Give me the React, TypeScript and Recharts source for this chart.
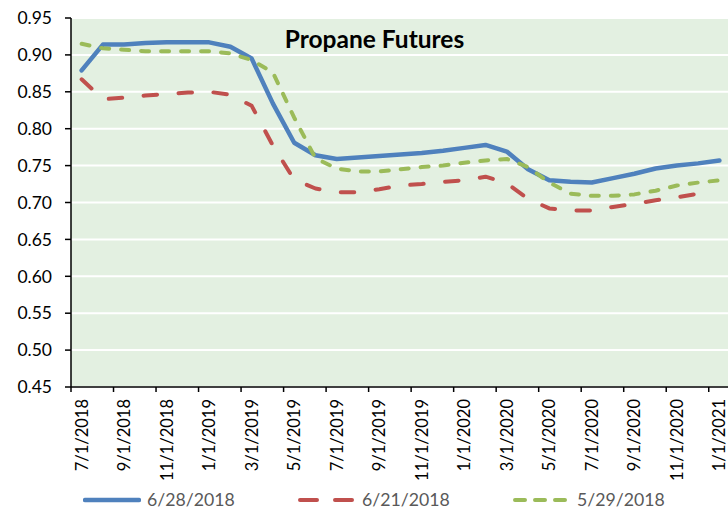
import React from 'react';
import { LineChart, Line, XAxis, YAxis, CartesianGrid, Legend } from 'recharts';

const months = [
  '7/1/2018', '8/1/2018', '9/1/2018', '10/1/2018', '11/1/2018', '12/1/2018',
  '1/1/2019', '2/1/2019', '3/1/2019', '4/1/2019', '5/1/2019', '6/1/2019',
  '7/1/2019', '8/1/2019', '9/1/2019', '10/1/2019', '11/1/2019', '12/1/2019',
  '1/1/2020', '2/1/2020', '3/1/2020', '4/1/2020', '5/1/2020', '6/1/2020',
  '7/1/2020', '8/1/2020', '9/1/2020', '10/1/2020', '11/1/2020', '12/1/2020',
  '1/1/2021',
];

const curve0628 = [
  0.879, 0.914, 0.914, 0.916, 0.917, 0.917, 0.917, 0.911, 0.895, 0.834,
  0.781, 0.764, 0.759, 0.761, 0.763, 0.765, 0.767, 0.770, 0.774, 0.778,
  0.769, 0.745, 0.730, 0.728, 0.727, 0.733, 0.739, 0.746, 0.750, 0.753,
  0.757,
];

const curve0621 = [
  0.867, 0.840, 0.842, 0.845, 0.847, 0.849, 0.850, 0.846, 0.831, 0.777,
  0.731, 0.719, 0.714, 0.714, 0.718, 0.723, 0.725, 0.728, 0.730, 0.735,
  0.726, 0.705, 0.692, 0.689, 0.689, 0.694, 0.698, 0.703, 0.707, 0.712,
  null,
];

const curve0529 = [
  0.915, 0.909, 0.907, 0.905, 0.905, 0.905, 0.905, 0.902, 0.893, 0.876,
  0.815, 0.760, 0.746, 0.742, 0.742, 0.745, 0.748, 0.750, 0.754, 0.757,
  0.759, 0.748, 0.727, 0.712, 0.709, 0.709, 0.711, 0.716, 0.723, 0.727,
  0.730,
];

const yTicks = [0.45, 0.5, 0.55, 0.6, 0.65, 0.7, 0.75, 0.8, 0.85, 0.9, 0.95];

const series = [
  { key: 'd0628', name: '6/28/2018', color: '#4F81BD', width: 4.5, dash: undefined, legendDash: undefined },
  { key: 'd0621', name: '6/21/2018', color: '#C0504D', width: 4, dash: '13.5 21.5', legendDash: '17 18' },
  { key: 'd0529', name: '5/29/2018', color: '#9BBB59', width: 4, dash: '8 12', legendDash: '10 10' },
];

const data = months.map((m, i) => ({
  month: m,
  d0628: curve0628[i],
  d0621: curve0621[i],
  d0529: curve0529[i],
}));

const FONT = 'Lato, "Liberation Sans", Arial, sans-serif';
const CHART_W = 732;
const CHART_H = 510;
const Y_AXIS_W = 71;
const MARGIN = { top: 18, right: 2, left: 0, bottom: 38 };
// one month slot on the date axis; ticks sit on slot edges, labels in the middle
const CELL = (CHART_W - MARGIN.left - MARGIN.right - Y_AXIS_W) / months.length;

const DateTick = (props: any) => {
  const { x, y, payload } = props;
  const ty = y + 12;
  return (
    <g>
      <line x1={x - CELL / 2} y1={y} x2={x - CELL / 2} y2={y + 5} stroke="#000" strokeWidth={1.5} />
      <text
        x={x}
        y={ty}
        transform={`rotate(-90, ${x}, ${ty})`}
        textAnchor="end"
        dy="0.36em"
        fontSize={16.5}
        fontFamily={FONT}
        fill="#000"
      >
        {payload.value}
      </text>
    </g>
  );
};

const LegendRow = () => (
  <div style={{ display: 'flex', alignItems: 'center', paddingLeft: 83, height: 20, fontFamily: FONT }}>
    {series.map((s) => (
      <div key={s.key} style={{ width: 217, display: 'flex', alignItems: 'center' }}>
        <svg width={58} height={12}>
          <line
            x1={2}
            y1={6}
            x2={56}
            y2={6}
            stroke={s.color}
            strokeWidth={s.width}
            strokeDasharray={s.legendDash}
            strokeLinecap="round"
          />
        </svg>
        <span style={{ marginLeft: 6, fontSize: 17.7, lineHeight: '18px', color: '#595959' }}>{s.name}</span>
      </div>
    ))}
  </div>
);

export default function App() {
  return (
    <div style={{ position: 'absolute', left: 0, top: 0, width: 728, height: 510, overflow: 'hidden', background: '#fff' }}>
      <LineChart width={CHART_W} height={CHART_H} data={data} margin={MARGIN}>
        <CartesianGrid vertical={false} stroke="#fff" strokeWidth={2} fill="#E3F0E1" fillOpacity={1} />
        <XAxis
          dataKey="month"
          interval={1}
          height={85}
          padding={{ left: CELL / 2, right: CELL / 2 }}
          axisLine={{ stroke: '#000', strokeWidth: 1.5 }}
          tickLine={false}
          tickSize={0}
          tickMargin={0}
          tick={<DateTick />}
        />
        <YAxis
          domain={[0.45, 0.95]}
          ticks={yTicks}
          width={Y_AXIS_W}
          allowDataOverflow
          tickFormatter={(v: number) => v.toFixed(2)}
          axisLine={{ stroke: '#000', strokeWidth: 1.5 }}
          tickLine={{ stroke: '#000', strokeWidth: 1.5 }}
          tickSize={6}
          tickMargin={13}
          tick={{ fontSize: 17.5, fontFamily: FONT, fill: '#000' }}
        />
        {series.map((s) => (
          <Line
            key={s.key}
            dataKey={s.key}
            name={s.name}
            type="linear"
            stroke={s.color}
            strokeWidth={s.width}
            strokeDasharray={s.dash}
            strokeLinecap="round"
            strokeLinejoin="round"
            dot={false}
            activeDot={false}
            isAnimationActive={false}
          />
        ))}
        <Legend
          layout="horizontal"
          align="center"
          verticalAlign="middle"
          wrapperStyle={{ position: 'absolute', top: 490, left: 0, width: 728, height: 20 }}
          content={() => <LegendRow />}
        />
      </LineChart>
      <svg width={728} height={60} style={{ position: 'absolute', left: 0, top: 0, pointerEvents: 'none' }}>
        <text x={374.5} y={48} textAnchor="middle" fontSize={24.5} fontWeight={700} fontFamily={FONT} fill="#000">
          Propane Futures
        </text>
      </svg>
    </div>
  );
}
